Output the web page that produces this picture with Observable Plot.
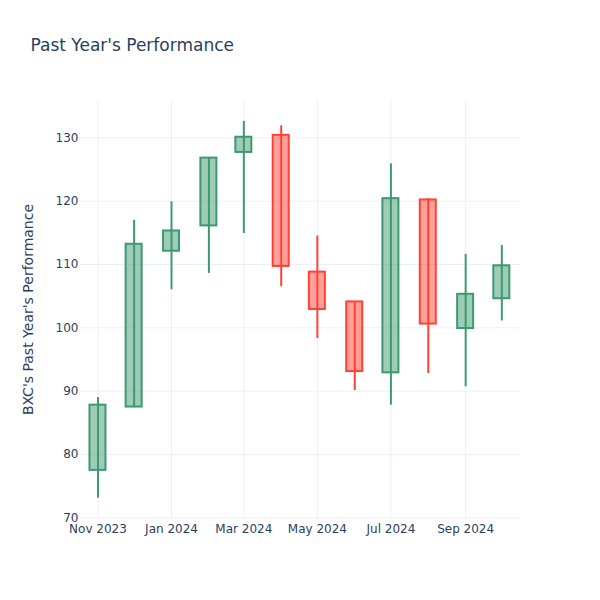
<!DOCTYPE html>
<html>
<head>
<meta charset="utf-8">
<script src="https://cdn.jsdelivr.net/npm/d3@7"></script>
<script src="https://cdn.jsdelivr.net/npm/@observablehq/plot@0.6"></script>
<style>
  html, body { margin: 0; padding: 0; background: #fff; }
  #chart { width: 600px; height: 600px; }
</style>
</head>
<body>
<div id="chart"></div>
<script>
const months = ["2023-11-01","2023-12-01","2024-01-01","2024-02-01","2024-03-01","2024-04-01",
                "2024-05-01","2024-06-01","2024-07-01","2024-08-01","2024-09-01","2024-10-01"];
const opens  = [77.5, 87.5, 112.1, 116.1, 127.7, 130.4, 108.8, 104.1,  92.9, 120.2,  99.9, 104.6];
const highs  = [89.0, 117.0, 119.9, 126.8, 132.6, 131.9, 114.5, 104.1, 125.9, 120.4, 111.6, 113.0];
const lows   = [73.1, 87.4, 106.0, 108.6, 114.9, 106.5,  98.3,  90.1,  87.8,  92.8,  90.7, 101.1];
const closes = [87.8, 113.2, 115.3, 126.8, 130.1, 109.7, 102.9,  93.1, 120.4, 100.6, 105.3, 109.8];
const xTickDates = ["2023-11-01","2024-01-01","2024-03-01","2024-05-01","2024-07-01","2024-09-01"];
const yTicks = [70, 80, 90, 100, 110, 120, 130];
const titleText = "Past Year's Performance";
const yLabel = "BXC's Past Year's Performance";

const parse = d3.utcParse("%Y-%m-%d");
const data = months.map((m, i) => ({
  date: parse(m), open: opens[i], high: highs[i], low: lows[i], close: closes[i],
  up: closes[i] >= opens[i]
}));
const xTicks = xTickDates.map(parse);
const UP = "#3D9970", DOWN = "#FF4136";
const TXT = "#2a3f5f", GRID = "#EBF0F8";
const col = d => d.up ? UP : DOWN;

const chart = Plot.plot({
  width: 600,
  height: 600,
  marginLeft: 80,
  marginRight: 80,
  marginTop: 100,
  marginBottom: 82,
  style: { fontFamily: "DejaVu Sans", fontSize: "12px", color: TXT, background: "#fff" },
  x: {
    type: "utc",
    domain: [new Date(Date.UTC(2023, 9, 17, 12)), new Date(Date.UTC(2024, 9, 16, 12))],
    ticks: xTicks,
    tickFormat: d3.utcFormat("%b %Y"),
    tickSize: 0,
    tickPadding: 6,
    label: null
  },
  y: {
    domain: [69.9, 135.9],
    ticks: yTicks,
    tickSize: 0,
    tickPadding: 2,
    label: null
  },
  marks: [
    Plot.gridX(xTicks, { stroke: GRID, strokeOpacity: 1, strokeWidth: 1 }),
    Plot.gridY(yTicks, { stroke: GRID, strokeOpacity: 1, strokeWidth: 1 }),
    Plot.ruleX(data, { x: "date", y1: "low", y2: "high", stroke: col, strokeWidth: 2 }),
    Plot.rect(data, {
      x1: "date", x2: "date", y1: "open", y2: "close",
      insetLeft: -8, insetRight: -8,
      fill: col, fillOpacity: 0.5, stroke: col, strokeWidth: 2
    }),
    Plot.axisX({ ticks: xTicks, tickFormat: d3.utcFormat("%b %Y"), tickSize: 0, tickPadding: 6, label: null, fill: TXT }),
    Plot.axisY({ ticks: yTicks, tickSize: 0, tickPadding: 2, label: null, fill: TXT }),
    Plot.text([yLabel], {
      frameAnchor: "left", dx: -52, rotate: -90, textAnchor: "middle",
      fontSize: 14, fill: TXT
    }),
    Plot.text([titleText], {
      frameAnchor: "top-left", dx: -50, dy: -61.4, textAnchor: "start",
      fontSize: 17, fill: TXT
    })
  ]
});
document.getElementById("chart").appendChild(chart);
</script>
</body>
</html>
